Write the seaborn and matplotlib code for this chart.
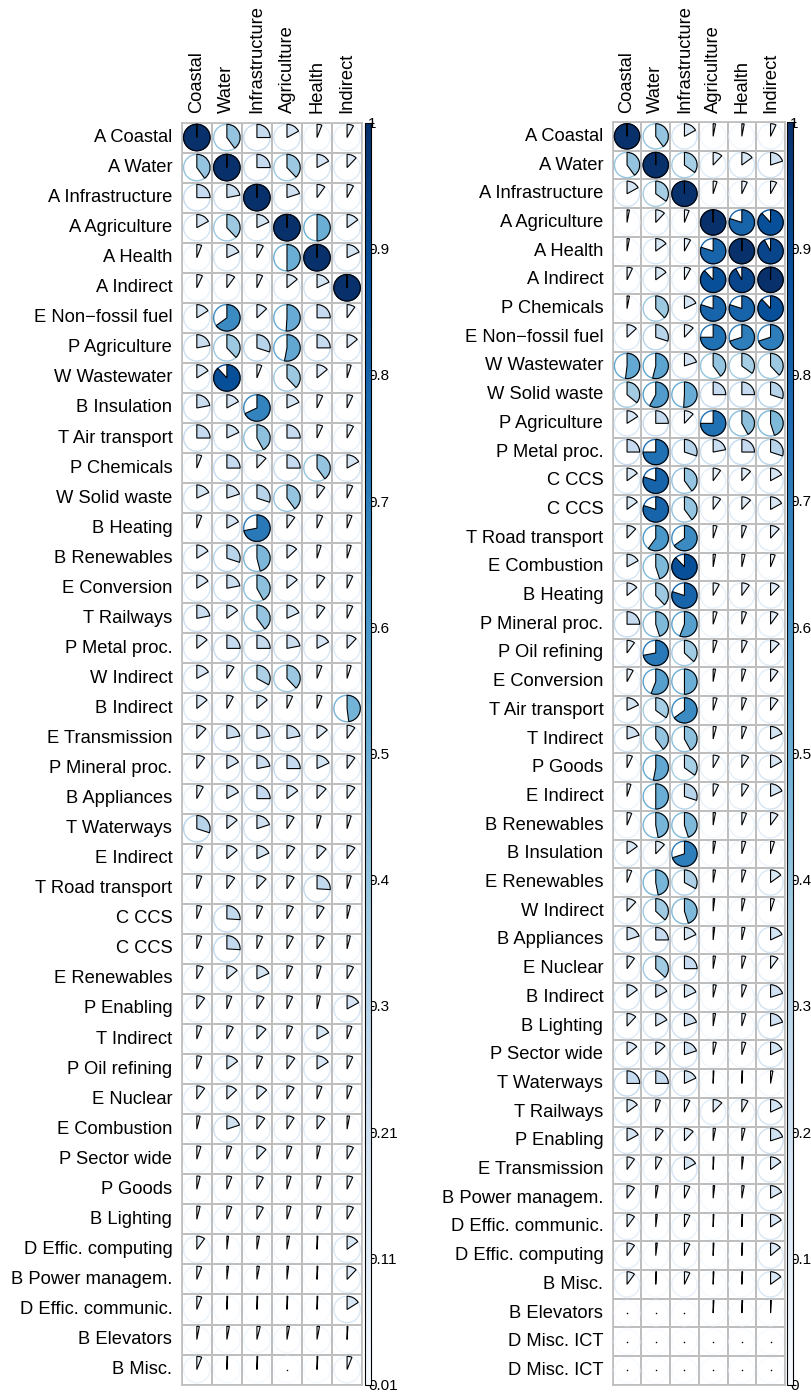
import numpy as np
import pandas as pd
import matplotlib
matplotlib.use("Agg")
import matplotlib.pyplot as plt
import seaborn as sns
from matplotlib.patches import Wedge, Circle
from matplotlib.colors import Normalize, ListedColormap
from matplotlib.cm import ScalarMappable

# ---------------- data ----------------
columns = ["Coastal", "Water", "Infrastructure", "Agriculture", "Health", "Indirect"]

left_rows = [
    "A Coastal", "A Water", "A Infrastructure", "A Agriculture", "A Health", "A Indirect",
    "E Non\u2212fossil fuel", "P Agriculture", "W Wastewater", "B Insulation", "T Air transport",
    "P Chemicals", "W Solid waste", "B Heating", "B Renewables", "E Conversion", "T Railways",
    "P Metal proc.", "W Indirect", "B Indirect", "E Transmission", "P Mineral proc.",
    "B Appliances", "T Waterways", "E Indirect", "T Road transport", "C CCS", "C CCS",
    "E Renewables", "P Enabling", "T Indirect", "P Oil refining", "E Nuclear", "E Combustion",
    "P Sector wide", "P Goods", "B Lighting", "D Effic. computing", "B Power managem.",
    "D Effic. communic.", "B Elevators", "B Misc.",
]

left_values = [
    [1.00, 0.40, 0.25, 0.17, 0.06, 0.08],
    [0.40, 1.00, 0.25, 0.38, 0.17, 0.12],
    [0.25, 0.22, 1.00, 0.20, 0.10, 0.08],
    [0.17, 0.38, 0.18, 1.00, 0.50, 0.15],
    [0.06, 0.18, 0.08, 0.50, 1.00, 0.18],
    [0.07, 0.10, 0.07, 0.14, 0.18, 1.00],
    [0.16, 0.65, 0.13, 0.51, 0.25, 0.10],
    [0.22, 0.38, 0.30, 0.53, 0.25, 0.14],
    [0.16, 0.88, 0.06, 0.38, 0.14, 0.05],
    [0.22, 0.17, 0.68, 0.18, 0.07, 0.07],
    [0.25, 0.18, 0.42, 0.25, 0.07, 0.08],
    [0.06, 0.25, 0.12, 0.25, 0.40, 0.17],
    [0.18, 0.20, 0.30, 0.40, 0.10, 0.07],
    [0.06, 0.17, 0.72, 0.10, 0.07, 0.06],
    [0.16, 0.30, 0.46, 0.13, 0.05, 0.05],
    [0.16, 0.22, 0.42, 0.14, 0.10, 0.07],
    [0.22, 0.15, 0.40, 0.18, 0.10, 0.07],
    [0.14, 0.25, 0.25, 0.22, 0.17, 0.12],
    [0.17, 0.09, 0.33, 0.38, 0.06, 0.05],
    [0.14, 0.08, 0.14, 0.07, 0.06, 0.48],
    [0.12, 0.22, 0.22, 0.22, 0.14, 0.10],
    [0.10, 0.17, 0.22, 0.25, 0.18, 0.10],
    [0.08, 0.17, 0.25, 0.15, 0.12, 0.10],
    [0.30, 0.14, 0.20, 0.09, 0.05, 0.05],
    [0.07, 0.14, 0.18, 0.10, 0.12, 0.10],
    [0.06, 0.10, 0.12, 0.09, 0.26, 0.05],
    [0.06, 0.26, 0.07, 0.08, 0.09, 0.04],
    [0.06, 0.26, 0.07, 0.08, 0.09, 0.04],
    [0.08, 0.14, 0.18, 0.07, 0.05, 0.08],
    [0.10, 0.06, 0.09, 0.07, 0.04, 0.17],
    [0.06, 0.08, 0.12, 0.07, 0.17, 0.06],
    [0.06, 0.15, 0.07, 0.10, 0.16, 0.07],
    [0.10, 0.13, 0.13, 0.09, 0.06, 0.06],
    [0.04, 0.20, 0.10, 0.09, 0.10, 0.03],
    [0.05, 0.06, 0.12, 0.06, 0.04, 0.08],
    [0.04, 0.06, 0.08, 0.05, 0.05, 0.07],
    [0.04, 0.06, 0.08, 0.05, 0.05, 0.08],
    [0.10, 0.02, 0.03, 0.03, 0.01, 0.15],
    [0.06, 0.02, 0.03, 0.02, 0.01, 0.12],
    [0.06, 0.01, 0.01, 0.01, 0.01, 0.16],
    [0.03, 0.03, 0.04, 0.03, 0.03, 0.01],
    [0.06, 0.01, 0.01, 0.00, 0.01, 0.06],
]

right_rows = [
    "A Coastal", "A Water", "A Infrastructure", "A Agriculture", "A Health", "A Indirect",
    "P Chemicals", "E Non\u2212fossil fuel", "W Wastewater", "W Solid waste", "P Agriculture",
    "P Metal proc.", "C CCS", "C CCS", "T Road transport", "E Combustion", "B Heating",
    "P Mineral proc.", "P Oil refining", "E Conversion", "T Air transport", "T Indirect",
    "P Goods", "E Indirect", "B Renewables", "B Insulation", "E Renewables", "W Indirect",
    "B Appliances", "E Nuclear", "B Indirect", "B Lighting", "P Sector wide", "T Waterways",
    "T Railways", "P Enabling", "E Transmission", "B Power managem.", "D Effic. communic.",
    "D Effic. computing", "B Misc.", "B Elevators", "D Misc. ICT", "D Misc. ICT",
]

right_values = [
    [1.00, 0.40, 0.17, 0.03, 0.03, 0.07],
    [0.40, 1.00, 0.35, 0.12, 0.15, 0.20],
    [0.17, 0.35, 1.00, 0.05, 0.07, 0.08],
    [0.03, 0.12, 0.06, 1.00, 0.80, 0.88],
    [0.03, 0.15, 0.08, 0.80, 1.00, 0.92],
    [0.07, 0.15, 0.08, 0.88, 0.92, 1.00],
    [0.03, 0.38, 0.18, 0.80, 0.80, 0.88],
    [0.13, 0.30, 0.12, 0.75, 0.70, 0.70],
    [0.52, 0.54, 0.20, 0.40, 0.35, 0.38],
    [0.36, 0.58, 0.51, 0.25, 0.25, 0.30],
    [0.16, 0.25, 0.12, 0.75, 0.42, 0.45],
    [0.25, 0.75, 0.30, 0.22, 0.25, 0.30],
    [0.15, 0.80, 0.40, 0.10, 0.12, 0.17],
    [0.15, 0.80, 0.40, 0.10, 0.12, 0.17],
    [0.12, 0.60, 0.65, 0.05, 0.06, 0.12],
    [0.17, 0.45, 0.88, 0.03, 0.04, 0.06],
    [0.14, 0.38, 0.80, 0.08, 0.10, 0.12],
    [0.25, 0.45, 0.56, 0.05, 0.06, 0.10],
    [0.10, 0.72, 0.37, 0.05, 0.07, 0.12],
    [0.08, 0.56, 0.50, 0.03, 0.05, 0.10],
    [0.18, 0.35, 0.65, 0.05, 0.06, 0.10],
    [0.20, 0.40, 0.42, 0.04, 0.06, 0.18],
    [0.07, 0.53, 0.35, 0.08, 0.09, 0.17],
    [0.05, 0.50, 0.30, 0.07, 0.09, 0.18],
    [0.06, 0.47, 0.45, 0.03, 0.06, 0.10],
    [0.15, 0.12, 0.70, 0.03, 0.05, 0.05],
    [0.06, 0.47, 0.33, 0.03, 0.05, 0.15],
    [0.12, 0.37, 0.45, 0.02, 0.04, 0.05],
    [0.20, 0.25, 0.18, 0.02, 0.04, 0.18],
    [0.10, 0.37, 0.25, 0.03, 0.05, 0.10],
    [0.15, 0.17, 0.18, 0.04, 0.06, 0.20],
    [0.12, 0.17, 0.20, 0.03, 0.05, 0.20],
    [0.14, 0.13, 0.20, 0.04, 0.05, 0.18],
    [0.25, 0.25, 0.18, 0.01, 0.01, 0.03],
    [0.15, 0.06, 0.07, 0.12, 0.08, 0.18],
    [0.17, 0.10, 0.12, 0.03, 0.04, 0.20],
    [0.10, 0.08, 0.17, 0.01, 0.02, 0.15],
    [0.10, 0.03, 0.07, 0.02, 0.03, 0.17],
    [0.10, 0.02, 0.07, 0.01, 0.01, 0.16],
    [0.10, 0.02, 0.07, 0.01, 0.01, 0.14],
    [0.10, 0.01, 0.07, 0.01, 0.01, 0.15],
    [0.00, 0.00, 0.00, 0.01, 0.01, 0.01],
    [0.00, 0.00, 0.00, 0.00, 0.00, 0.00],
    [0.00, 0.00, 0.00, 0.00, 0.00, 0.00],
]

left_cbar_limits = (0.01, 1.0)
left_cbar_labels = ["0.01", "0.11", "0.21", "0.3", "0.4", "0.5", "0.6", "0.7", "0.8", "0.9", "1"]
right_cbar_limits = (0.0, 1.0)
right_cbar_labels = ["0", "0.1", "0.2", "0.3", "0.4", "0.5", "0.6", "0.7", "0.8", "0.9", "1"]

# ---------------- style ----------------
sns.set_style("white")
plt.rcParams["font.family"] = ["Liberation Sans", "DejaVu Sans"]
plt.rcParams["text.color"] = "black"
plt.rcParams["xtick.color"] = "black"
plt.rcParams["ytick.color"] = "black"
plt.rcParams["axes.labelcolor"] = "black"

W, H = 812, 1392
fig = plt.figure(figsize=(W / 100, H / 100), dpi=100)
cmap = plt.get_cmap("Blues")
pie_norm = Normalize(0, 1)
GRID = "#BEBEBE"


def px_rect(x0, y0, w, h):
    return [x0 / W, 1 - (y0 + h) / H, w / W, h / H]


def draw_panel(x0, y0, cell, rows, values, cb_x, cb_lim, cb_labels):
    nrow, ncol = len(rows), len(columns)
    ax = fig.add_axes(px_rect(x0, y0, cell * ncol, cell * nrow))
    df = pd.DataFrame(values, index=rows, columns=columns)
    sns.heatmap(df, ax=ax, cmap=ListedColormap(["white"]), cbar=False,
                linewidths=1.2, linecolor=GRID,
                xticklabels=columns, yticklabels=rows)
    ax.set_xlabel("")
    ax.set_ylabel("")
    ax.xaxis.tick_top()
    ax.set_xticklabels(columns, rotation=90, fontsize=13.2, color="black")
    ax.set_yticklabels(rows, rotation=0, fontsize=13.2, color="black")
    ax.tick_params(axis="y", length=0, pad=6.8)
    ax.tick_params(axis="x", length=0, pad=6.5)
    for sp in ax.spines.values():
        sp.set_visible(True)
        sp.set_color(GRID)
        sp.set_linewidth(1.2)

    r = 0.44
    for i in range(nrow):
        for j in range(ncol):
            v = values[i][j]
            cx, cy = j + 0.5, i + 0.5
            col = cmap(pie_norm(v))
            ax.add_patch(Circle((cx, cy), r, fill=False, ec=col, lw=1.0, zorder=3))
            if v <= 0:
                ax.scatter([cx], [cy], s=1.2, color="black", zorder=5, linewidths=0)
            else:
                ang = min(v, 0.99999) * 360.0
                ax.add_patch(Wedge((cx, cy), r, -90, -90 + ang, fc=col, ec="black",
                                   lw=0.8, zorder=4))

    # colorbar
    cax = fig.add_axes(px_rect(cb_x, y0, 5.5, cell * nrow))
    sm = ScalarMappable(norm=Normalize(*cb_lim), cmap=cmap)
    cb = fig.colorbar(sm, cax=cax, ticks=np.linspace(cb_lim[0], cb_lim[1], 11))
    cb.set_ticklabels(cb_labels)
    cb.outline.set_edgecolor("black")
    cb.outline.set_linewidth(0.8)
    cax.tick_params(length=2, width=0.8, pad=-4, labelsize=11, colors="black")
    return ax


draw_panel(181.8, 122.5, 30.05, left_rows, left_values, 365.5, left_cbar_limits, left_cbar_labels)
draw_panel(612.7, 122.0, 28.7, right_rows, right_values, 787.5, right_cbar_limits, right_cbar_labels)

fig.savefig("out.png", dpi=100, facecolor="white")
